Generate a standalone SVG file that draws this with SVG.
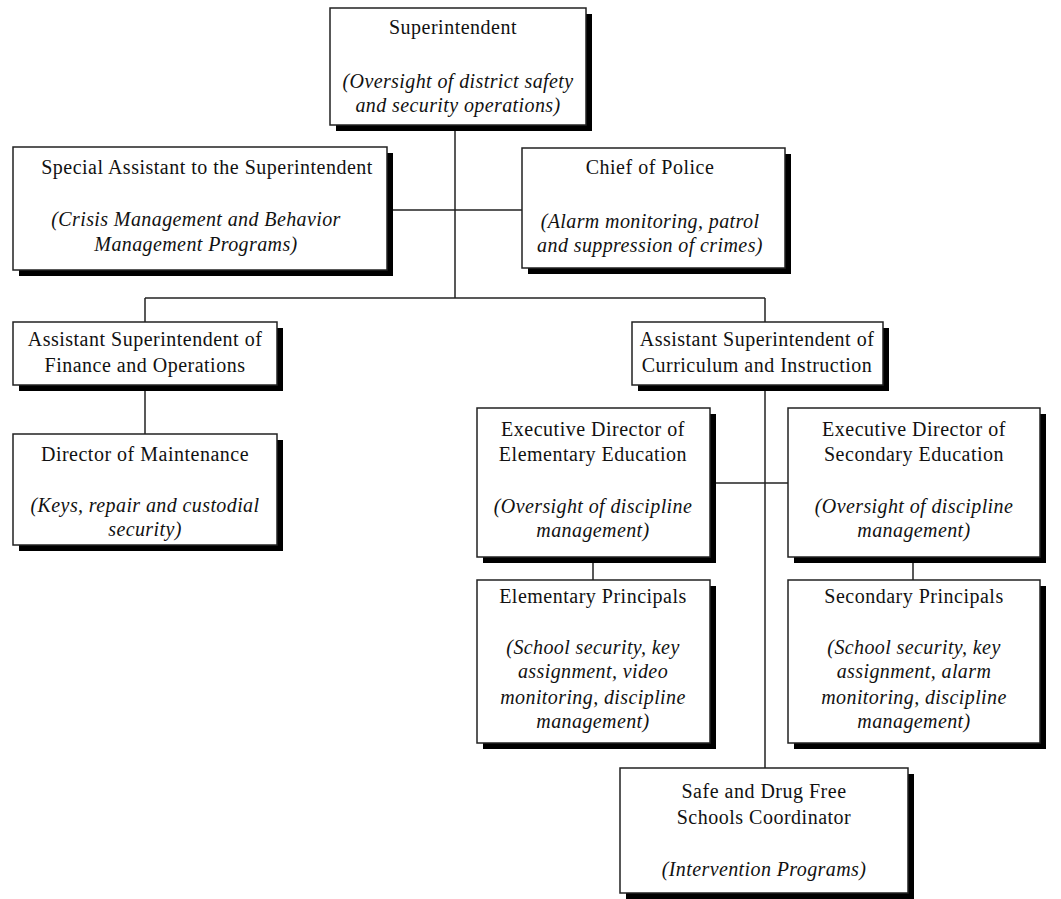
<svg xmlns="http://www.w3.org/2000/svg" width="1061" height="899" viewBox="0 0 1061 899">
  <style>
    .shadow { fill: #000; }
    .box { fill: #fff; stroke: #222; stroke-width: 1.5; }
    .title { font-family: "Liberation Serif", "Times New Roman", serif; font-size: 20px; letter-spacing: 0.5px; fill: #111; text-anchor: middle; }
    .note { font-family: "Liberation Serif", "Times New Roman", serif; font-size: 20px; letter-spacing: 0.4px; font-style: italic; fill: #111; text-anchor: middle; }
    .conn { stroke: #222; stroke-width: 1.5; fill: none; }
  </style>
  <rect width="1061" height="899" fill="#fff"/>

  <!-- connectors -->
  <g id="connectors">
    <path class="conn" d="M455 125 V298"/>
    <path class="conn" d="M387 210 H522"/>
    <path class="conn" d="M145 298 H765"/>
    <path class="conn" d="M145 298 V322"/>
    <path class="conn" d="M765 298 V322"/>
    <path class="conn" d="M145 385 V434"/>
    <path class="conn" d="M765 385 V768"/>
    <path class="conn" d="M710 483 H788"/>
    <path class="conn" d="M593 557 V580"/>
    <path class="conn" d="M913 557 V580"/>
  </g>

  <g id="superintendent">
    <rect class="shadow" x="336" y="14" width="256" height="117"/>
    <rect class="box" x="330" y="8" width="256" height="117"/>
    <text class="title" x="453" y="34">Superintendent</text>
    <text class="note" x="458" y="88">(Oversight of district safety</text>
    <text class="note" x="458" y="112">and security operations)</text>
  </g>

  <g id="special-assistant">
    <rect class="shadow" x="19" y="153" width="374" height="123"/>
    <rect class="box" x="13" y="147" width="374" height="123"/>
    <text class="title" x="207" y="174">Special Assistant to the Superintendent</text>
    <text class="note" x="196" y="226">(Crisis Management and Behavior</text>
    <text class="note" x="196" y="251">Management Programs)</text>
  </g>

  <g id="chief-of-police">
    <rect class="shadow" x="528" y="154" width="263" height="120"/>
    <rect class="box" x="522" y="148" width="263" height="120"/>
    <text class="title" x="650" y="174">Chief of Police</text>
    <text class="note" x="650" y="228">(Alarm monitoring, patrol</text>
    <text class="note" x="650" y="252">and suppression of crimes)</text>
  </g>

  <g id="asst-finance">
    <rect class="shadow" x="19" y="328" width="264" height="63"/>
    <rect class="box" x="13" y="322" width="264" height="63"/>
    <text class="title" x="145" y="346">Assistant Superintendent of</text>
    <text class="title" x="145" y="372">Finance and Operations</text>
  </g>

  <g id="director-maintenance">
    <rect class="shadow" x="19" y="440" width="264" height="111"/>
    <rect class="box" x="13" y="434" width="264" height="111"/>
    <text class="title" x="145" y="461">Director of Maintenance</text>
    <text class="note" x="145" y="512">(Keys, repair and custodial</text>
    <text class="note" x="145" y="536">security)</text>
  </g>

  <g id="asst-curriculum">
    <rect class="shadow" x="638" y="328" width="251" height="63"/>
    <rect class="box" x="632" y="322" width="251" height="63"/>
    <text class="title" x="757" y="346">Assistant Superintendent of</text>
    <text class="title" x="757" y="372">Curriculum and Instruction</text>
  </g>

  <g id="exec-elementary">
    <rect class="shadow" x="483" y="414" width="233" height="149"/>
    <rect class="box" x="477" y="408" width="233" height="149"/>
    <text class="title" x="593" y="436">Executive Director of</text>
    <text class="title" x="593" y="461">Elementary Education</text>
    <text class="note" x="593" y="513">(Oversight of discipline</text>
    <text class="note" x="593" y="537">management)</text>
  </g>

  <g id="exec-secondary">
    <rect class="shadow" x="794" y="414" width="252" height="149"/>
    <rect class="box" x="788" y="408" width="252" height="149"/>
    <text class="title" x="914" y="436">Executive Director of</text>
    <text class="title" x="914" y="461">Secondary Education</text>
    <text class="note" x="914" y="513">(Oversight of discipline</text>
    <text class="note" x="914" y="537">management)</text>
  </g>

  <g id="elementary-principals">
    <rect class="shadow" x="483" y="586" width="233" height="163"/>
    <rect class="box" x="477" y="580" width="233" height="163"/>
    <text class="title" x="593" y="603">Elementary Principals</text>
    <text class="note" x="593" y="654">(School security, key</text>
    <text class="note" x="593" y="678">assignment, video</text>
    <text class="note" x="593" y="704">monitoring, discipline</text>
    <text class="note" x="593" y="728">management)</text>
  </g>

  <g id="secondary-principals">
    <rect class="shadow" x="794" y="586" width="252" height="163"/>
    <rect class="box" x="788" y="580" width="252" height="163"/>
    <text class="title" x="914" y="603">Secondary Principals</text>
    <text class="note" x="914" y="654">(School security, key</text>
    <text class="note" x="914" y="678">assignment, alarm</text>
    <text class="note" x="914" y="704">monitoring, discipline</text>
    <text class="note" x="914" y="728">management)</text>
  </g>

  <g id="safe-drug-free">
    <rect class="shadow" x="626" y="774" width="288" height="125"/>
    <rect class="box" x="620" y="768" width="288" height="125"/>
    <text class="title" x="764" y="798">Safe and Drug Free</text>
    <text class="title" x="764" y="824">Schools Coordinator</text>
    <text class="note" x="764" y="876">(Intervention Programs)</text>
  </g>
</svg>
